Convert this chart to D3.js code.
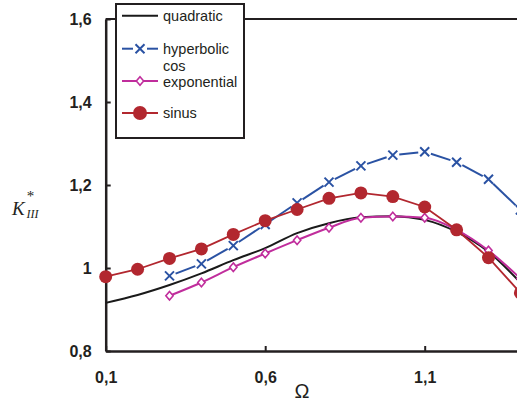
<!DOCTYPE html>
<html><head><meta charset="utf-8">
<script src="https://cdn.jsdelivr.net/npm/d3@7"></script>
<style>body{margin:0;background:#fff}svg{display:block}</style>
</head><body>
<script>
// ---- data ----
const omega = [0.1,0.2,0.3,0.4,0.5,0.6,0.7,0.8,0.9,1.0,1.1,1.2,1.3,1.4];
const quadratic = [0.916,0.935,0.959,0.987,1.019,1.048,1.084,1.108,1.122,1.125,1.116,1.087,1.039,0.965];
const hyperbolicOmega = [0.3,0.4,0.5,0.6,0.7,0.8,0.9,1.0,1.1,1.2,1.3,1.4];
const hyperbolic = [0.981,1.010,1.054,1.105,1.157,1.207,1.246,1.272,1.280,1.255,1.214,1.14];
const exponentialOmega = [0.3,0.4,0.5,0.6,0.7,0.8,0.9,1.0,1.1,1.2,1.3,1.4];
const exponential = [0.933,0.965,1.002,1.035,1.067,1.097,1.121,1.124,1.121,1.092,1.042,0.975];
const sinus = [0.979,0.997,1.023,1.046,1.081,1.114,1.141,1.168,1.181,1.172,1.147,1.092,1.025,0.94];
const xTicks = [0.1,0.6,1.1];
const xTickLabels = ["0,1","0,6","1,1"];
const yTicks = [0.8,1.0,1.2,1.4,1.6];
const yTickLabels = ["0,8","1","1,2","1,4","1,6"];
const legendNames = ["quadratic","hyperbolic cos","exponential","sinus"];

const W=517,H=403;
const C={black:"#1a1a1a",blue:"#2a52a3",mag:"#c02d9c",red:"#b2272f",axis:"#231f20"};
const svg=d3.select("body").append("svg").attr("width",W).attr("height",H);
const x=d3.scaleLinear().domain([0.1,1.6]).range([105.7,584.2]);
const y=d3.scaleLinear().domain([0.8,1.6]).range([351,19]);
const font="'Liberation Sans', Arial, sans-serif";

// frame top line
svg.append("line").attr("x1",x(0.1)).attr("x2",x(1.6)).attr("y1",y(1.6)).attr("y2",y(1.6))
  .attr("stroke",C.axis).attr("stroke-width",2);

// axes
const ya=svg.append("g").attr("transform",`translate(${x(0.1)},0)`)
  .call(d3.axisLeft(y).tickValues(yTicks).tickFormat((d,i)=>yTickLabels[i]).tickSizeInner(-5).tickSizeOuter(0).tickPadding(14));
const xa=svg.append("g").attr("transform",`translate(0,${y(0.8)})`)
  .call(d3.axisBottom(x).tickValues(xTicks).tickFormat((d,i)=>xTickLabels[i]).tickSizeInner(-5).tickSizeOuter(0).tickPadding(21));
[ya,xa].forEach(a=>{
  a.select(".domain").attr("stroke",C.axis).attr("stroke-width",2.5);
  a.selectAll(".tick line").attr("stroke",C.axis).attr("stroke-width",2);
  a.selectAll(".tick text").attr("fill",C.axis).style("font-family",font).style("font-size","16px").style("font-weight","bold");
});

// series
const lineSmooth=d3.line().curve(d3.curveMonotoneX);
const quadPts=omega.map((o,i)=>[x(o),y(quadratic[i])]);
svg.append("path").attr("d",lineSmooth(quadPts)).attr("fill","none").attr("stroke",C.black).attr("stroke-width",2);

const expPts=exponentialOmega.map((o,i)=>[x(o),y(exponential[i])]);
svg.append("path").attr("d",lineSmooth(expPts)).attr("fill","none").attr("stroke",C.mag).attr("stroke-width",2);
function diamond(g,cx,cy,s){
  g.append("path").attr("d",`M${cx},${cy-s}L${cx+s*0.85},${cy}L${cx},${cy+s}L${cx-s*0.85},${cy}Z`)
   .attr("fill","#fff").attr("stroke",C.mag).attr("stroke-width",1.6);
}
expPts.forEach(p=>diamond(svg,p[0],p[1],4.3));

const hypPts=hyperbolicOmega.map((o,i)=>[x(o),y(hyperbolic[i])]);
const gap=6.5;
for(let i=0;i<hypPts.length-1;i++){
  const [x1,y1]=hypPts[i],[x2,y2]=hypPts[i+1];
  const L=Math.hypot(x2-x1,y2-y1),ux=(x2-x1)/L,uy=(y2-y1)/L;
  svg.append("line").attr("x1",x1+ux*gap).attr("y1",y1+uy*gap).attr("x2",x2-ux*gap).attr("y2",y2-uy*gap)
    .attr("stroke",C.blue).attr("stroke-width",2);
}
function cross(g,cx,cy,s){
  g.append("path").attr("d",`M${cx-s},${cy-s}L${cx+s},${cy+s}M${cx-s},${cy+s}L${cx+s},${cy-s}`)
   .attr("stroke",C.blue).attr("stroke-width",2).attr("fill","none");
}
hypPts.forEach(p=>cross(svg,p[0],p[1],4.5));

const sinPts=omega.map((o,i)=>[x(o),y(sinus[i])]);
svg.append("path").attr("d",d3.line()(sinPts)).attr("fill","none").attr("stroke",C.red).attr("stroke-width",1.8);
sinPts.forEach(p=>svg.append("circle").attr("cx",p[0]).attr("cy",p[1]).attr("r",6.5).attr("fill",C.red));

// legend
const lg=svg.append("g");
lg.append("rect").attr("x",116).attr("y",4).attr("width",128).attr("height",134)
  .attr("fill","#fff").attr("stroke",C.axis).attr("stroke-width",2);
const lx1=122,lx2=158,lxm=140,tx=163;
const rows=[15.7,48.7,81,113];
lg.append("line").attr("x1",lx1).attr("x2",lx2).attr("y1",rows[0]).attr("y2",rows[0]).attr("stroke",C.black).attr("stroke-width",2);
lg.append("line").attr("x1",lx1).attr("x2",lxm-7).attr("y1",rows[1]).attr("y2",rows[1]).attr("stroke",C.blue).attr("stroke-width",2);
lg.append("line").attr("x1",lxm+7).attr("x2",lx2).attr("y1",rows[1]).attr("y2",rows[1]).attr("stroke",C.blue).attr("stroke-width",2);
cross(lg,lxm,rows[1],4.5);
lg.append("line").attr("x1",lx1).attr("x2",lx2).attr("y1",rows[2]).attr("y2",rows[2]).attr("stroke",C.mag).attr("stroke-width",2);
diamond(lg,lxm,rows[2],4.3);
lg.append("line").attr("x1",lx1).attr("x2",lx2).attr("y1",rows[3]).attr("y2",rows[3]).attr("stroke",C.red).attr("stroke-width",1.8);
lg.append("circle").attr("cx",lxm).attr("cy",rows[3]).attr("r",7).attr("fill",C.red);
const lt=(t,yy)=>lg.append("text").attr("x",tx).attr("y",yy).text(t)
  .style("font-family",font).style("font-size","14.5px").attr("fill",C.axis);
lt(legendNames[0],rows[0]+5);
lt(legendNames[1].split(" ")[0],rows[1]+5);
lt(legendNames[1].split(" ")[1],rows[1]+22);
lt(legendNames[2],rows[2]+5.5);
lt(legendNames[3],rows[3]+5);

// axis titles
const serif="'Liberation Serif','Times New Roman',serif";
svg.append("text").attr("x",12).attr("y",215).text("K").style("font-family",serif)
  .style("font-style","italic").style("font-size","19px").attr("fill",C.axis);
svg.append("text").attr("x",30.5).attr("y",201).attr("text-anchor","middle").text("*").style("font-family",serif)
  .style("font-size","15px").attr("fill",C.axis);
svg.append("text").attr("x",26.5).attr("y",218).text("III").style("font-family",serif)
  .style("font-style","italic").style("font-size","12px").attr("fill",C.axis);
svg.append("text").attr("x",302).attr("y",398).attr("text-anchor","middle").text("Ω")
  .style("font-family",font).style("font-size","20px").attr("fill",C.axis);
</script>
</body></html>
